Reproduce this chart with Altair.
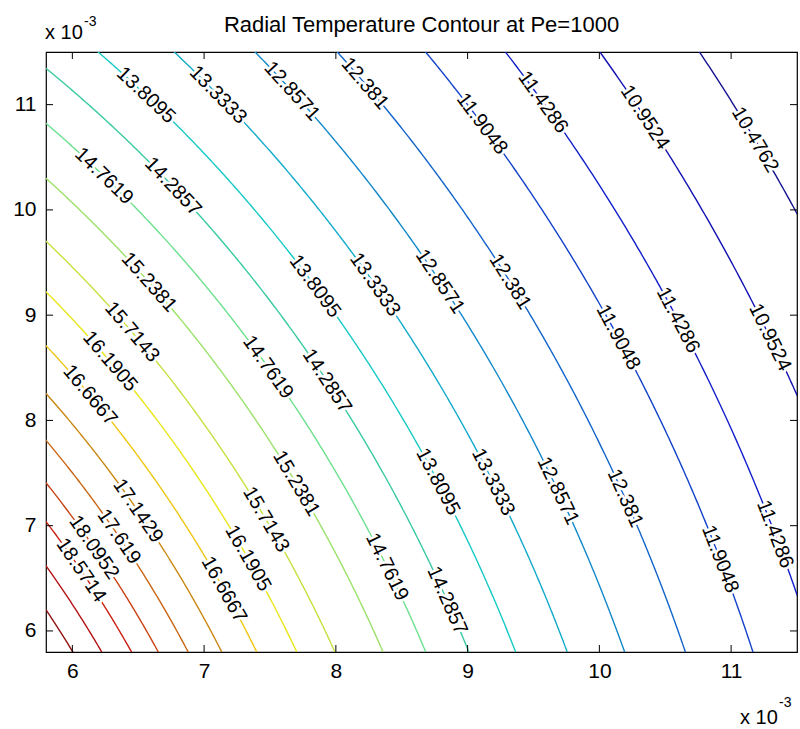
import altair as alt
import pandas as pd

# Isotherm levels and the x semi-axis of each isotherm (x 10^-3).
# Isotherms are ellipses  x^2 + (y / STRETCH)^2 = R^2.
levels = [10.4762, 10.9524, 11.4286, 11.9048, 12.381, 12.8571, 13.3333, 13.8095,
          14.2857, 14.7619, 15.2381, 15.7143, 16.1905, 16.6667, 17.1429, 17.619,
          18.0952, 18.5714, 19.0476, 19.5238]
radii = [13.487, 12.892, 12.344, 11.895, 11.415, 10.986, 10.583, 10.223,
         9.899, 9.602, 9.310, 8.984, 8.727, 8.460, 8.229, 8.009,
         7.815, 7.643, 7.453, 7.271]
STRETCH = 2 ** 0.5

# Inline labels: which isotherm, and the x position where the label sits.
label_levels = [13.8095, 13.3333, 12.8571, 12.381, 11.9048, 11.4286, 10.9524, 10.4762,
                14.7619, 14.2857, 15.2381, 15.7143, 16.1905, 16.6667,
                17.1429, 17.619, 18.0952, 18.5714,
                14.7619, 14.2857, 13.8095, 13.3333, 12.8571, 12.381, 11.9048, 11.4286, 10.9524,
                15.2381, 15.7143, 16.1905, 16.6667,
                13.8095, 13.3333, 12.8571, 12.381, 11.9048, 11.4286, 14.7619, 14.2857]
label_x = [6.559, 7.105, 7.667, 8.221, 9.109, 9.572, 10.346, 11.181,
           6.240, 6.764, 6.582, 6.453, 6.286, 6.134,
           6.498, 6.354, 6.164, 6.066,
           7.485, 7.933, 7.842, 8.297, 8.790, 9.322, 10.142, 10.597, 11.295,
           7.700, 7.470, 7.333, 7.151,
           8.775, 9.193, 9.686, 10.195, 10.916, 11.333, 8.388, 8.844]

ticks = [6, 7, 8, 9, 10, 11]

# jet colormap sampled at each level (printed tones)
jet = ["#121291", "#1212B4", "#121FCA", "#1242CA", "#1265CA", "#1288CA", "#12ABCA",
       "#16CAC5", "#3ACAA2", "#6CE08E", "#9BE26A", "#C6E040", "#E8E619", "#EEC612",
       "#CA8812", "#CA6512", "#CA4212", "#CA1F12", "#B41212", "#911212"]

W, H = 751, 600
X0, X1, Y0, Y1 = 5.8, 11.5, 5.8, 11.5
KX, KY = W / (X1 - X0), H / (Y1 - Y0)

xs = alt.Scale(domain=[X0, X1], nice=False, zero=False)
ys = alt.Scale(domain=[Y0, Y1], nice=False, zero=False)

FONT = "Liberation Sans"

iso = pd.DataFrame({"level": levels, "R": radii})

x_axis = alt.Axis(values=ticks, format="d", title=None, ticks=False, domain=False,
                  grid=False, labelFont=FONT, labelFontSize=21, labelColor="black",
                  labelPadding=8, labelFlush=False)
y_axis = alt.Axis(values=ticks, format="d", title=None, ticks=False, domain=False,
                  grid=False, labelFont=FONT, labelFontSize=21, labelColor="black",
                  labelPadding=10, labelFlush=False)

contours = alt.Chart(iso).transform_calculate(
    t="sequence(0, 1.5708, 0.002)"
).transform_flatten(["t"]).transform_calculate(
    x="datum.R * cos(datum.t)",
    y=f"{STRETCH} * datum.R * sin(datum.t)",
).transform_filter(
    "datum.x > 5.7 && datum.x < 11.6 && datum.y > 5.7 && datum.y < 11.6"
).mark_line(clip=True, strokeWidth=1.4).encode(
    x=alt.X("x:Q", scale=xs, axis=x_axis),
    y=alt.Y("y:Q", scale=ys, axis=y_axis),
    color=alt.Color("level:N", scale=alt.Scale(domain=levels, range=jet), legend=None),
    detail="level:N",
    order="t:Q",
)

lab = pd.DataFrame({"level": label_levels, "x": label_x}).merge(iso, on="level")

label_base = alt.Chart(lab).transform_calculate(
    y=f"{STRETCH} * sqrt(datum.R * datum.R - datum.x * datum.x)",
).transform_calculate(
    ang=f"atan({KY / KX} * {STRETCH ** 2} * datum.x / datum.y) * 180 / PI",
    txt="format(datum.level, '.6~g')",
)
label_enc = dict(
    x=alt.X("x:Q", scale=xs),
    y=alt.Y("y:Q", scale=ys),
    text="txt:N",
    angle=alt.Angle("ang:Q", scale=None),
)
halo = label_base.mark_text(font=FONT, fontSize=20, align="center",
                            baseline="middle", fill="white", stroke="white",
                            strokeWidth=5, strokeJoin="round").encode(**label_enc)
text = label_base.mark_text(font=FONT, fontSize=20, align="center",
                            baseline="middle", color="black").encode(**label_enc)

tick_df = pd.DataFrame({"v": ticks})
tick_len = 7
bottom_ticks = alt.Chart(tick_df).mark_rule(color="black").encode(
    x=alt.X("v:Q", scale=xs), y=alt.value(H), y2=alt.value(H - tick_len))
top_ticks = alt.Chart(tick_df).mark_rule(color="black").encode(
    x=alt.X("v:Q", scale=xs), y=alt.value(0), y2=alt.value(tick_len))
left_ticks = alt.Chart(tick_df).mark_rule(color="black").encode(
    y=alt.Y("v:Q", scale=ys), x=alt.value(0), x2=alt.value(tick_len))
right_ticks = alt.Chart(tick_df).mark_rule(color="black").encode(
    y=alt.Y("v:Q", scale=ys), x=alt.value(W), x2=alt.value(W - tick_len))


def note(s, px, py, size, align="left", baseline="alphabetic"):
    return alt.Chart(pd.DataFrame({"s": [s]})).mark_text(
        font=FONT, fontSize=size, align=align, baseline=baseline, color="black"
    ).encode(text="s:N", x=alt.value(px), y=alt.value(py))


title = note("Radial Temperature Contour at Pe=1000", W / 2, -27, 22,
             align="center", baseline="middle")
exp_tl = note("x 10", -1, -13, 20)
exp_tl_sup = note("-3", 38, -26, 14)
exp_br = note("x 10", 694, 672, 20)
exp_br_sup = note("-3", 733, 655, 14)

chart = alt.layer(
    contours, halo, text,
    bottom_ticks, top_ticks, left_ticks, right_ticks,
    title, exp_tl, exp_tl_sup, exp_br, exp_br_sup,
).properties(
    width=W, height=H,
    padding={"left": 46, "top": 52, "right": 3, "bottom": 77},
    autosize=alt.AutoSizeParams(type="none"),
    background="white",
).configure_view(stroke="black", strokeWidth=1.2)

chart.save("out.html", embed_options={"renderer": "svg", "actions": False})
